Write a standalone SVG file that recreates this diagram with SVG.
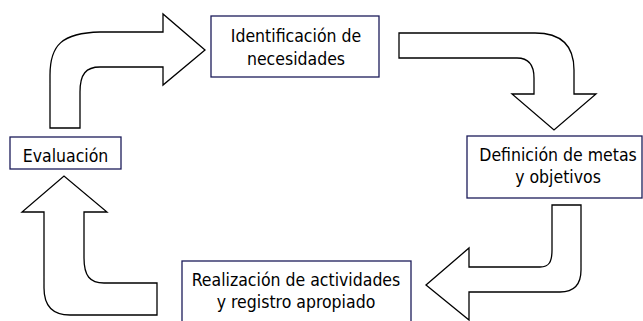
<svg xmlns="http://www.w3.org/2000/svg" width="643" height="321" viewBox="0 0 643 321">
<style>
.box{fill:#fff;stroke:#1c1c5a;stroke-width:1.3}
.arr{fill:#fff;stroke:#000;stroke-width:1.3;stroke-linejoin:miter}
text{font-family:"DejaVu Sans Condensed","DejaVu Sans",sans-serif;font-size:17.5px;fill:#000;text-anchor:middle}
</style>
<rect width="643" height="321" fill="#fff"/>
<g id="connectors">
<path class="arr" d="M50,128 L50,75 C50,45 62,33 100,32 L163,32 L163,14 L205,50 L163,85 L163,67 L100,67 C86,67 80,74 80,92 L80,128 Z"/>
<path class="arr" d="M399,33 L535,33 C562,33 574,47 574,70 L574,94 L596,94 L554,130 L512,94 L534,94 L534,78 C534,64 528,58 517,58 L399,58 Z"/>
<path class="arr" d="M552,205 L581,205 L581,270 C581,285 574,292 560,292 L469,292 L469,320 L426,285 L469,248 L469,267 L540,267 C549,267 552,262 552,250 Z"/>
<path class="arr" d="M157,283 L157,315 L70,315 C52,315 44,305 44,288 L44,212 L22,212 L64,176 L107,212 L84,212 L84,258 C84,276 90,283 104,283 Z"/>
</g>
<g id="n1">
<rect class="box" x="211" y="16" width="168" height="61"/>
<text x="296" y="42">Identificación de</text>
<text x="296" y="65">necesidades</text>
</g>
<g id="n2">
<rect class="box" x="467" y="136" width="175" height="62"/>
<text x="558" y="161">Definición de metas</text>
<text x="558" y="183">y objetivos</text>
</g>
<g id="n3">
<rect class="box" x="182" y="261" width="229" height="64"/>
<text x="296" y="286">Realización de actividades</text>
<text x="296" y="308">y registro apropiado</text>
</g>
<g id="n4">
<rect class="box" x="10" y="137" width="111" height="32"/>
<text x="65.5" y="162">Evaluación</text>
</g>
</svg>
